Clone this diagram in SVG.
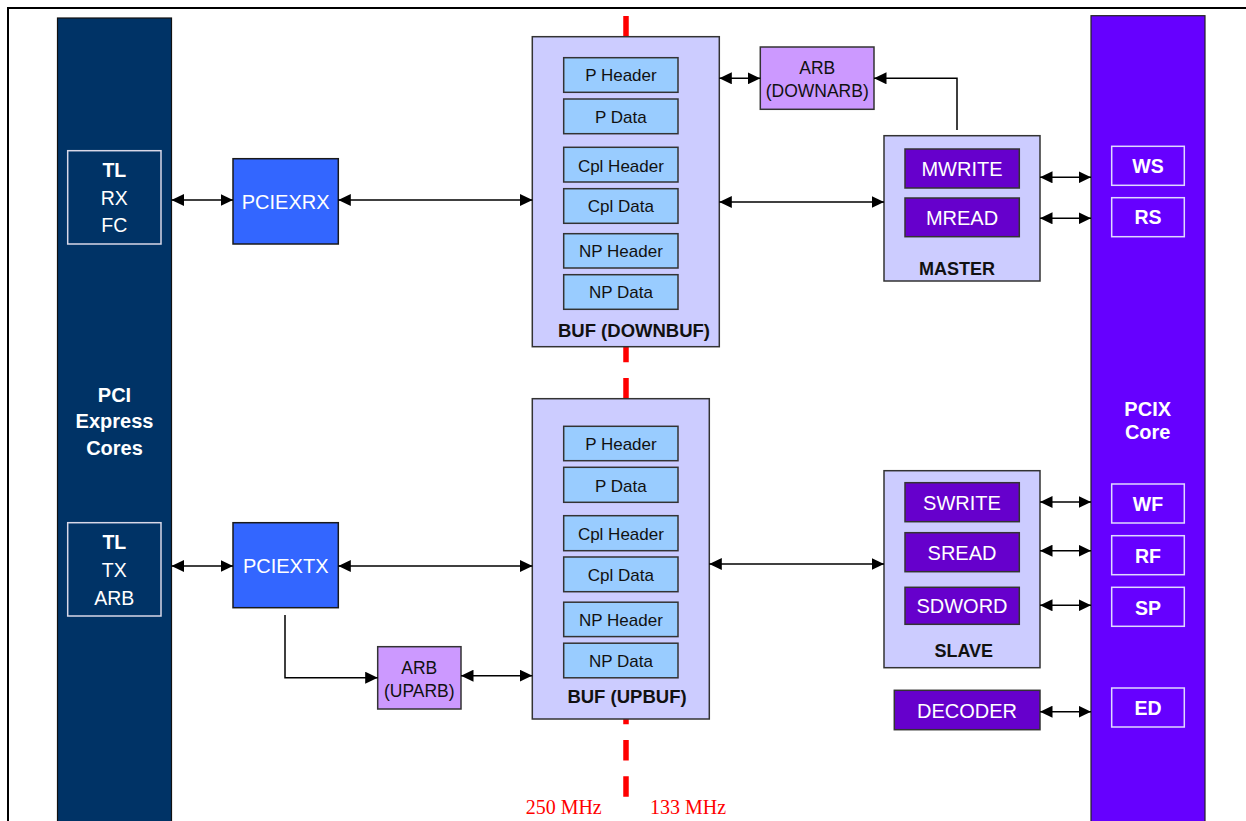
<svg xmlns="http://www.w3.org/2000/svg" width="1246" height="821" viewBox="0 0 1246 821">
  <style>
    text { font-family: "Liberation Sans", Arial, sans-serif; text-anchor: middle; }
    .frame { stroke: #000; stroke-width: 2; fill: none; }
    .core-pcie { fill: #003366; stroke: #111; stroke-width: 1.2; }
    .core-pcix { fill: #6600FF; stroke: #222; stroke-width: 1.2; }
    .port { fill: none; stroke: #D8D8E8; stroke-width: 1.5; }
    .port-pcix { fill: none; stroke: #E0D8FF; stroke-width: 1.5; }
    .lbl-w { fill: #fff; font-size: 19.5px; }
    .lbl-wb { fill: #fff; font-size: 19.5px; font-weight: bold; }
    .title-w { fill: #fff; font-size: 20px; font-weight: bold; }
    .blue { fill: #3366FF; stroke: #1a1a1a; stroke-width: 1.5; }
    .blue-t { fill: #fff; font-size: 20px; }
    .buf { fill: #CCCCFF; stroke: #333; stroke-width: 1.5; }
    .queue { fill: #99CCFF; stroke: #333; stroke-width: 1.5; }
    .queue-t { fill: #111; font-size: 17px; }
    .buf-t { fill: #111; font-size: 18.5px; font-weight: bold; }
    .arb { fill: #CC99FF; stroke: #333; stroke-width: 1.5; }
    .arb-t { fill: #111; font-size: 17.5px; }
    .ctl { fill: #CCCCFF; stroke: #333; stroke-width: 1.5; }
    .ctl-t { fill: #111; font-size: 18px; font-weight: bold; }
    .eng { fill: #6600CC; stroke: #333; stroke-width: 1.5; }
    .eng-t { fill: #fff; font-size: 20px; }
    .clk { stroke: #FF0000; stroke-width: 5.5; stroke-dasharray: 20.5 15.7; fill: none; }
    .clk-t { fill: #FF0000; font-family: "Liberation Serif", "Times New Roman", serif; font-size: 20px; }
    .wire { stroke: #000; stroke-width: 1.5; fill: none; }
    .both { marker-start: url(#head); marker-end: url(#head); }
    .one { marker-end: url(#head); }
  </style>
  <defs>
    <marker id="head" viewBox="0 0 12.5 12" refX="12.5" refY="6" markerWidth="12.5" markerHeight="12" markerUnits="userSpaceOnUse" orient="auto-start-reverse">
      <path d="M0,0 L12.5,6 L0,12 z" fill="#000"/>
    </marker>
  </defs>

  <rect width="1246" height="821" fill="#fff"/>
  <path class="frame" d="M8,821 V8 H1246"/>

  <!-- clock domain boundary -->
  <g id="clock-boundary">
    <line class="clk" x1="626" y1="16" x2="626" y2="797"/>
    <text class="clk-t" x="563.7" y="814">250 MHz</text>
    <text class="clk-t" x="688" y="814">133 MHz</text>
  </g>

  <!-- PCI Express cores column -->
  <g id="pcie-cores">
    <rect class="core-pcie" x="57.5" y="18" width="114" height="815"/>
    <text class="title-w" x="114.5" y="401.7">PCI</text>
    <text class="title-w" x="114.5" y="427.7">Express</text>
    <text class="title-w" x="114.5" y="455">Cores</text>
  </g>
  <g id="tl-rx-fc">
    <rect class="port" x="67.7" y="150.7" width="93.3" height="93.3"/>
    <text class="lbl-wb" x="114.3" y="177">TL</text>
    <text class="lbl-w" x="114.3" y="205">RX</text>
    <text class="lbl-w" x="114.3" y="232.3">FC</text>
  </g>
  <g id="tl-tx-arb">
    <rect class="port" x="67.7" y="522.7" width="93.3" height="93.3"/>
    <text class="lbl-wb" x="114.3" y="549">TL</text>
    <text class="lbl-w" x="114.3" y="576.7">TX</text>
    <text class="lbl-w" x="114.3" y="605">ARB</text>
  </g>

  <!-- PCIX core column -->
  <g id="pcix-core">
    <rect class="core-pcix" x="1091" y="15.7" width="114" height="817"/>
    <text class="title-w" x="1147.7" y="416">PCIX</text>
    <text class="title-w" x="1147.7" y="439.3">Core</text>
  </g>
  <g id="port-ws">
    <rect class="port-pcix" x="1111.7" y="146.3" width="72.6" height="39"/>
    <text class="lbl-wb" x="1148" y="173.3">WS</text>
  </g>
  <g id="port-rs">
    <rect class="port-pcix" x="1111.7" y="197.7" width="72.6" height="39"/>
    <text class="lbl-wb" x="1148" y="224.3">RS</text>
  </g>
  <g id="port-wf">
    <rect class="port-pcix" x="1111.7" y="484" width="72.6" height="39"/>
    <text class="lbl-wb" x="1148" y="511">WF</text>
  </g>
  <g id="port-rf">
    <rect class="port-pcix" x="1111.7" y="535.7" width="72.6" height="39"/>
    <text class="lbl-wb" x="1148" y="563.3">RF</text>
  </g>
  <g id="port-sp">
    <rect class="port-pcix" x="1111.7" y="587.3" width="72.6" height="39"/>
    <text class="lbl-wb" x="1148" y="615">SP</text>
  </g>
  <g id="port-ed">
    <rect class="port-pcix" x="1111.7" y="688" width="72.6" height="39"/>
    <text class="lbl-wb" x="1148" y="715">ED</text>
  </g>

  <!-- PCI Express side blocks -->
  <g id="pciexrx">
    <rect class="blue" x="233" y="158.7" width="105.3" height="85.3"/>
    <text class="blue-t" x="285.7" y="209">PCIEXRX</text>
  </g>
  <g id="pciextx">
    <rect class="blue" x="233" y="522.7" width="105.3" height="85"/>
    <text class="blue-t" x="285.7" y="573">PCIEXTX</text>
  </g>
  <g id="uparb">
    <rect class="arb" x="377.7" y="646.7" width="83.3" height="62.3"/>
    <text class="arb-t" x="419.3" y="674">ARB</text>
    <text class="arb-t" x="419.3" y="696.7">(UPARB)</text>
  </g>

  <!-- downstream buffer -->
  <g id="downbuf">
    <rect class="buf" x="532.3" y="36.7" width="187" height="310"/>
    <rect class="queue" x="563.7" y="57.7" width="114.3" height="34.6"/>
    <text class="queue-t" x="620.9" y="81">P Header</text>
    <rect class="queue" x="563.7" y="99" width="114.3" height="34.7"/>
    <text class="queue-t" x="620.9" y="123.3">P Data</text>
    <rect class="queue" x="563.7" y="147.3" width="114.3" height="34.7"/>
    <text class="queue-t" x="620.9" y="171.7">Cpl Header</text>
    <rect class="queue" x="563.7" y="188.7" width="114.3" height="34.6"/>
    <text class="queue-t" x="620.9" y="212.3">Cpl Data</text>
    <rect class="queue" x="563.7" y="233.7" width="114.3" height="34.3"/>
    <text class="queue-t" x="620.9" y="257.3">NP Header</text>
    <rect class="queue" x="563.7" y="274.7" width="114.3" height="34.6"/>
    <text class="queue-t" x="620.9" y="298.3">NP Data</text>
    <text class="buf-t" x="634" y="336.7">BUF (DOWNBUF)</text>
  </g>

  <!-- upstream buffer -->
  <g id="upbuf">
    <rect class="buf" x="532.3" y="398.7" width="177" height="320.3"/>
    <rect class="queue" x="563.7" y="426.3" width="114.3" height="34.4"/>
    <text class="queue-t" x="620.9" y="449.6">P Header</text>
    <rect class="queue" x="563.7" y="467.3" width="114.3" height="35"/>
    <text class="queue-t" x="620.9" y="491.8">P Data</text>
    <rect class="queue" x="563.7" y="515.7" width="114.3" height="35"/>
    <text class="queue-t" x="620.9" y="540.2">Cpl Header</text>
    <rect class="queue" x="563.7" y="557" width="114.3" height="34.7"/>
    <text class="queue-t" x="620.9" y="580.8">Cpl Data</text>
    <rect class="queue" x="563.7" y="602.2" width="114.3" height="34.4"/>
    <text class="queue-t" x="620.9" y="625.8">NP Header</text>
    <rect class="queue" x="563.7" y="643.2" width="114.3" height="34.6"/>
    <text class="queue-t" x="620.9" y="666.8">NP Data</text>
    <text class="buf-t" x="627" y="703.3">BUF (UPBUF)</text>
  </g>

  <g id="downarb">
    <rect class="arb" x="760.3" y="47" width="113.7" height="62.3"/>
    <text class="arb-t" x="817.2" y="74">ARB</text>
    <text class="arb-t" x="817.2" y="96.7">(DOWNARB)</text>
  </g>

  <!-- PCIX side controllers -->
  <g id="master">
    <rect class="ctl" x="884" y="135.7" width="156" height="145.3"/>
    <rect class="eng" x="905" y="149" width="114.3" height="39"/>
    <text class="eng-t" x="962" y="176">MWRITE</text>
    <rect class="eng" x="905" y="198" width="114.3" height="38.7"/>
    <text class="eng-t" x="962" y="225">MREAD</text>
    <text class="ctl-t" x="957" y="275">MASTER</text>
  </g>
  <g id="slave">
    <rect class="ctl" x="884" y="470.7" width="156" height="197"/>
    <rect class="eng" x="905" y="482.7" width="114.3" height="39"/>
    <text class="eng-t" x="962" y="510">SWRITE</text>
    <rect class="eng" x="905" y="532.7" width="114.3" height="39"/>
    <text class="eng-t" x="962" y="560">SREAD</text>
    <rect class="eng" x="905" y="587.3" width="114.3" height="37"/>
    <text class="eng-t" x="962" y="613.3">SDWORD</text>
    <text class="ctl-t" x="963.8" y="657.3">SLAVE</text>
  </g>
  <g id="decoder">
    <rect class="eng" x="894.3" y="690.3" width="145.7" height="39.4"/>
    <text class="eng-t" x="967" y="718.3">DECODER</text>
  </g>

  <!-- connectors -->
  <g id="connectors">
    <line class="wire both" x1="171.5" y1="200" x2="233" y2="200"/>
    <line class="wire both" x1="338.3" y1="200" x2="532.3" y2="200"/>
    <line class="wire both" x1="719.3" y1="78.3" x2="760.3" y2="78.3"/>
    <path class="wire one" d="M957,130 V78.3 H874"/>
    <line class="wire both" x1="719.3" y1="202" x2="884" y2="202"/>
    <line class="wire both" x1="1040" y1="177.3" x2="1091" y2="177.3"/>
    <line class="wire both" x1="1040" y1="218.3" x2="1091" y2="218.3"/>
    <line class="wire both" x1="171.5" y1="566" x2="233" y2="566"/>
    <line class="wire both" x1="338.3" y1="566" x2="532.3" y2="566"/>
    <path class="wire one" d="M285,615 V677.7 H377.7"/>
    <line class="wire both" x1="461" y1="675.7" x2="532.3" y2="675.7"/>
    <line class="wire both" x1="709.3" y1="564" x2="884" y2="564"/>
    <line class="wire both" x1="1040" y1="502" x2="1091" y2="502"/>
    <line class="wire both" x1="1040" y1="550.7" x2="1091" y2="550.7"/>
    <line class="wire both" x1="1040" y1="605.3" x2="1091" y2="605.3"/>
    <line class="wire both" x1="1040" y1="711.7" x2="1091" y2="711.7"/>
  </g>
</svg>
